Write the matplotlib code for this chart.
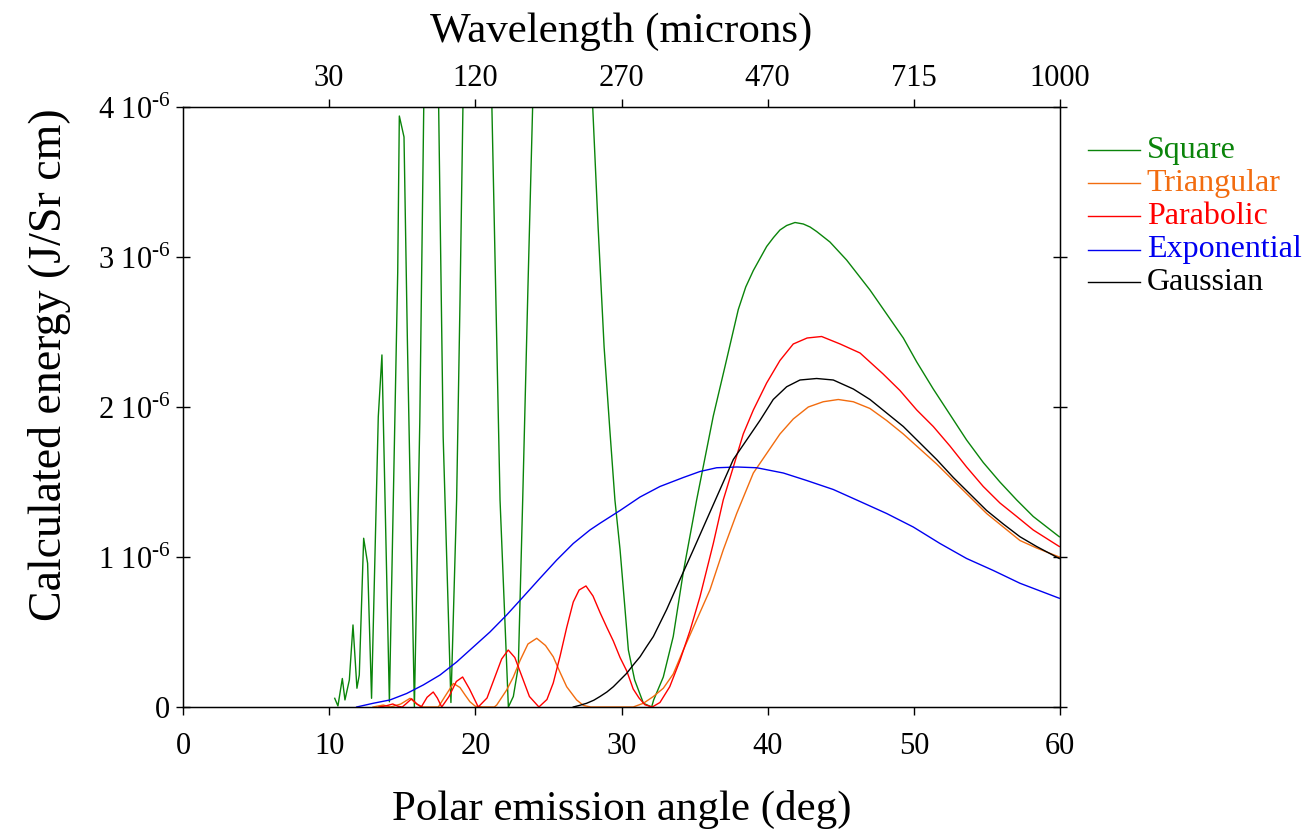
import numpy as np
import matplotlib
matplotlib.use('Agg')
import matplotlib.pyplot as plt

plt.rcParams['font.family'] = ['Liberation Serif', 'DejaVu Serif']
plt.rcParams['mathtext.fontset'] = 'custom'
plt.rcParams['mathtext.rm'] = 'Liberation Serif'

SCALE = 1e-6  # values below are in units of 1e-6 J/Sr cm

# Square
sq_x = [10.38, 10.6, 10.9, 11.08, 11.38, 11.63, 11.9, 12.06, 12.36, 12.63, 12.9, 13.36, 13.61,
        14.12, 14.69, 14.8, 15.12, 15.35, 15.83, 16.2, 16.6, 17.0, 17.35, 17.8, 18.33,
        18.72, 18.95, 19.4, 20.1, 20.75, 21.69, 22.26, 22.6, 22.94, 23.24, 23.6, 24.0,
        25.0, 26.0, 27.0, 27.6, 28.03, 28.4, 28.81, 29.2, 29.55, 29.9, 30.2, 30.47, 30.9,
        31.5, 32.06, 32.2, 32.86, 33.54, 34.23, 35.14, 36.28, 37.08, 37.99, 38.5, 39.02,
        39.93, 40.4, 40.84, 41.3, 41.87, 42.44, 42.9, 43.35, 44.26, 45.4, 46.2, 47.0, 48.14,
        49.28, 50.2, 51.33, 52.47, 53.61, 54.75, 55.89, 57.04, 58.17, 59.95]
sq_y = [0.058, 0.007, 0.19, 0.047, 0.18, 0.547, 0.125, 0.213, 1.125, 0.958, 0.058, 1.935, 2.347,
        0.035, 2.9, 3.94, 3.8, 2.45, 0.0, 1.9, 5.0, 6.5, 5.0, 1.8, 0.03,
        1.38, 2.7, 5.6, 8.0, 5.8, 1.38, 0.0, 0.07, 0.27, 1.38, 2.8, 4.3,
        7.0, 7.5, 6.3, 5.0, 4.0, 3.2, 2.4, 1.85, 1.38, 1.05, 0.7, 0.38, 0.18,
        0.025, 0.0, 0.047, 0.2, 0.47, 0.9, 1.38, 1.94, 2.27, 2.65, 2.8, 2.91,
        3.07, 3.13, 3.18, 3.21, 3.23, 3.22, 3.2, 3.17, 3.1, 2.98, 2.88, 2.78, 2.62,
        2.46, 2.3, 2.12, 1.95, 1.78, 1.63, 1.5, 1.38, 1.27, 1.135]

# Triangular
tri_x = [13.0, 13.7, 14.2, 14.9, 15.53, 16.0, 16.4, 17.0, 17.47, 17.92, 18.5, 18.95, 19.3,
         19.63, 20.0, 20.5, 21.3, 21.46, 22.14, 22.6, 23.06, 23.6, 24.2, 24.8, 25.33, 25.8,
         26.25, 26.93, 27.4, 27.9, 30.8, 31.5, 32.18, 32.86, 33.54, 34.23, 35.14, 36.05,
         36.96, 37.88, 39.02, 39.93, 40.84, 41.75, 42.78, 43.8, 44.83, 45.86, 47.0, 48.14,
         49.28, 50.42, 51.56, 52.7, 53.84, 54.98, 56.12, 57.26, 58.4, 59.95]
tri_y = [0.0, 0.013, 0.0, 0.02, 0.058, 0.02, 0.0, 0.0, 0.0, 0.07, 0.157, 0.13, 0.08,
         0.035, 0.005, 0.0, 0.0, 0.013, 0.113, 0.2, 0.31, 0.42, 0.458, 0.41, 0.335, 0.23,
         0.135, 0.047, 0.01, 0.0, 0.0, 0.025, 0.07, 0.125, 0.22, 0.38, 0.58, 0.78,
         1.047, 1.29, 1.56, 1.69, 1.82, 1.92, 2.0, 2.035, 2.05, 2.035, 1.99, 1.91,
         1.82, 1.72, 1.62, 1.51, 1.4, 1.29, 1.2, 1.11, 1.06, 1.0]

# Parabolic
par_x = [13.4, 13.9, 14.35, 14.7, 15.0, 15.3, 15.64, 16.0, 16.3, 16.7, 17.12, 17.4, 17.7,
         18.2, 18.7, 19.13, 19.6, 20.2, 20.8, 21.3, 21.8, 22.25, 22.7, 23.2, 23.7, 24.35,
         24.9, 25.33, 25.8, 26.25, 26.7, 27.1, 27.57, 28.05, 28.53, 29.0, 29.44, 29.9,
         30.36, 30.8, 31.2, 31.6, 32.1, 32.63, 33.3, 34.0, 34.69, 35.37, 36.28, 36.96,
         37.65, 38.33, 39.02, 39.93, 40.84, 41.75, 42.7, 43.69, 44.96, 46.32, 47.9, 49.05,
         50.2, 51.33, 52.47, 53.61, 54.75, 55.89, 57.04, 58.17, 59.95]
par_y = [0.0, 0.008, 0.02, 0.005, 0.0, 0.025, 0.055, 0.02, 0.0, 0.065, 0.1, 0.06, 0.0,
         0.07, 0.17, 0.2, 0.12, 0.0, 0.06, 0.19, 0.32, 0.38, 0.33, 0.2, 0.07, 0.0,
         0.05, 0.16, 0.34, 0.53, 0.7, 0.78, 0.807, 0.74, 0.63, 0.53, 0.44, 0.33,
         0.24, 0.12, 0.06, 0.015, 0.0, 0.03, 0.135, 0.31, 0.51, 0.735, 1.09, 1.38,
         1.6, 1.82, 1.98, 2.16, 2.31, 2.42, 2.46, 2.47, 2.42, 2.36, 2.22, 2.11,
         1.98, 1.87, 1.74, 1.6, 1.47, 1.36, 1.27, 1.18, 1.07]

# Exponential
exp_x = [11.88, 13.02, 14.16, 15.3, 16.44, 17.58, 18.72, 19.86, 21.0, 22.14, 23.28, 24.42,
         25.57, 26.7, 27.84, 28.53, 29.9, 31.27, 32.63, 34.23, 35.37, 36.51, 37.9, 39.25,
         41.07, 42.67, 44.49, 46.32, 48.14, 49.96, 51.79, 53.61, 55.44, 57.26, 59.95]
exp_y = [0.0, 0.025, 0.047, 0.09, 0.147, 0.213, 0.3, 0.4, 0.5, 0.613, 0.735, 0.858,
         0.98, 1.09, 1.18, 1.225, 1.31, 1.4, 1.47, 1.53, 1.57, 1.595, 1.6, 1.595,
         1.56, 1.51, 1.45, 1.37, 1.29, 1.2, 1.09, 0.99, 0.91, 0.825, 0.725]

# Gaussian
gau_x = [26.7, 27.1, 27.62, 28.1, 28.53, 29.0, 29.44, 29.9, 30.36, 30.8, 31.27, 31.7, 32.18,
         33.09, 34.0, 34.91, 35.83, 36.74, 37.65, 38.56, 39.47, 40.38, 41.3, 42.21, 43.35,
         44.49, 45.86, 47.0, 48.14, 49.28, 50.42, 51.56, 52.7, 53.84, 54.98, 56.12, 57.26,
         58.4, 59.95]
gau_y = [0.0, 0.01, 0.025, 0.045, 0.07, 0.1, 0.135, 0.18, 0.225, 0.28, 0.335, 0.4, 0.47,
         0.65, 0.85, 1.047, 1.25, 1.45, 1.65, 1.78, 1.91, 2.05, 2.135, 2.18, 2.19,
         2.18, 2.12, 2.05, 1.96, 1.87, 1.76, 1.65, 1.53, 1.42, 1.31, 1.22, 1.135,
         1.07, 0.99]

series = [
    ('Square', sq_x, sq_y, '#0a840a'),
    ('Triangular', tri_x, tri_y, '#f26c0f'),
    ('Parabolic', par_x, par_y, '#ff0000'),
    ('Exponential', exp_x, exp_y, '#0000f0'),
    ('Gaussian', gau_x, gau_y, '#000000'),
]

angle_ticks = [0, 10, 20, 30, 40, 50, 60]
y_ticks = [0, 1, 2, 3, 4]
y_tick_labels = ['0'] + [str(v) + r' 10$^{\text{-6}}$' for v in y_ticks[1:]]
wl_ticks = [10, 20, 30, 40, 50, 60]
wl_labels = ['30', '120', '270', '470', '715', '1000']

fig = plt.figure(figsize=(13.07, 8.31), dpi=100)
ax = fig.add_axes([183 / 1307, 1 - 707 / 831, 877 / 1307, 600 / 831])

for name, xs, ys, col in series:
    ax.plot(xs, np.array(ys) * SCALE, color=col, lw=1.0)

ax.set_xlim(0, 60)
ax.set_ylim(0, 4 * SCALE)
ax.set_xticks(angle_ticks)
ax.set_yticks(np.array(y_ticks) * SCALE)
ax.set_yticklabels(y_tick_labels)
ax.tick_params(axis='x', direction='out', length=6, width=1, labelsize=22, pad=12)
ax.tick_params(axis='y', direction='inout', length=10, width=1, labelsize=22, pad=4)
ax.tick_params(axis='y', which='both', right=True, labelright=False)
for s in ax.spines.values():
    s.set_linewidth(1.0)

ax.set_xlabel('Polar emission angle (deg)', fontsize=31, labelpad=21)
ax.set_ylabel('Calculated energy (J/Sr cm)', fontsize=33)
ax.yaxis.set_label_coords(-0.128, 0.57)

top = ax.twiny()
top.set_xlim(ax.get_xlim())
top.set_xticks(wl_ticks)
top.set_xticklabels(wl_labels)
top.tick_params(axis='x', direction='out', length=6, width=1, labelsize=22, pad=4)
top.set_xlabel('Wavelength (microns)', fontsize=31, labelpad=16)

# legend drawn by hand: coloured line + coloured label
leg_y = [0.928, 0.873, 0.818, 0.762, 0.708]
for (name, xs, ys, col), yy in zip(series, leg_y):
    ax.plot([1.032, 1.091], [yy, yy], transform=ax.transAxes, color=col, lw=1.0, clip_on=False)
    ax.text(1.099, yy, name, transform=ax.transAxes, color=col, fontsize=23,
            va='center', ha='left')

fig.savefig('out.png', dpi=100)
